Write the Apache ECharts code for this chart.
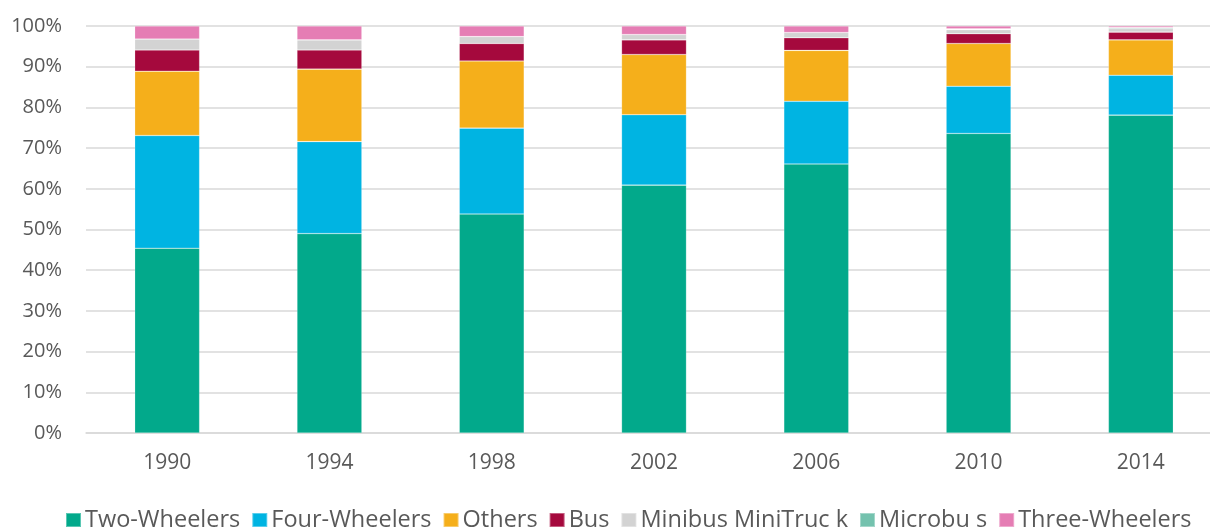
<!DOCTYPE html>
<html>
<head>
<meta charset="utf-8">
<title>Vehicle share</title>
<script src="https://cdn.jsdelivr.net/npm/echarts@6/dist/echarts.min.js"></script>
<style>
  html, body { margin: 0; padding: 0; background: #fff; }
  #chart { width: 1210px; height: 530px; }
</style>
</head>
<body>
<div id="chart"></div>
<script>
// categories (years)
var years = ['1990', '1994', '1998', '2002', '2006', '2010', '2014'];

// share of each vehicle type, %
var twoWheelers   = [45.4, 49.0, 53.8, 60.9, 66.1, 73.6, 78.1];
var fourWheelers  = [27.7, 22.6, 21.1, 17.3, 15.4, 11.6,  9.8];
var others        = [15.8, 17.8, 16.5, 14.8, 12.5, 10.5,  8.7];
var bus           = [ 5.2,  4.7,  4.3,  3.6,  3.1,  2.4,  1.9];
var minibusTruck  = [ 2.7,  2.5,  1.7,  1.3,  1.3,  1.0,  0.9];
var microbus      = [ 0.0,  0.0,  0.0,  0.0,  0.0,  0.2,  0.2];
var threeWheelers = [ 3.2,  3.4,  2.6,  2.1,  1.6,  0.7,  0.4];

var yTicks = [0, 10, 20, 30, 40, 50, 60, 70, 80, 90, 100];

var myChart = echarts.init(document.getElementById('chart'));

var textColor = '#595959';
var gridColor = '#d9d9d9';

function seg(name, data, color) {
  return {
    name: name,
    type: 'bar',
    stack: 'total',
    barWidth: '40%',
    itemStyle: {
      color: color,
      borderColor: 'rgba(255,255,255,0.35)',
      borderWidth: 0.6
    },
    emphasis: { disabled: true },
    data: data
  };
}

var option = {
  animation: false,
  textStyle: { fontFamily: 'Open Sans' },
  grid: {
    left: 86,
    top: 26,
    width: 1136,
    height: 407,
    containLabel: false,
    outerBoundsMode: 'none'
  },
  legend: {
    left: 65,
    top: 508,
    padding: 0,
    itemWidth: 15,
    itemHeight: 14,
    itemGap: 11,
    icon: 'rect',
    textStyle: {
      color: textColor,
      fontSize: 23.5,
      fontFamily: 'Open Sans',
      padding: [0, 0, 0, -1]
    }
  },
  xAxis: {
    type: 'category',
    data: years,
    axisTick: { show: false },
    axisLine: { lineStyle: { color: gridColor, width: 1.5 } },
    axisLabel: {
      color: textColor,
      fontSize: 21,
      margin: 20
    }
  },
  yAxis: {
    type: 'value',
    min: yTicks[0],
    max: yTicks[yTicks.length - 1],
    interval: 10,
    axisLine: { show: false },
    axisTick: { show: false },
    splitLine: { lineStyle: { color: gridColor, width: 1.5 } },
    axisLabel: {
      color: textColor,
      fontSize: 20,
      margin: 24,
      formatter: '{value}%'
    }
  },
  series: [
    seg('Two-Wheelers', twoWheelers, '#02a98b'),
    seg('Four-Wheelers', fourWheelers, '#00b4e2'),
    seg('Others', others, '#f5af1b'),
    seg('Bus', bus, '#a5093d'),
    seg('Minibus MiniTruc k', minibusTruck, '#d3d3d3'),
    seg('Microbu s', microbus, '#74c2ae'),
    seg('Three-Wheelers', threeWheelers, '#e57db4')
  ]
};

myChart.setOption(option);
</script>
</body>
</html>
